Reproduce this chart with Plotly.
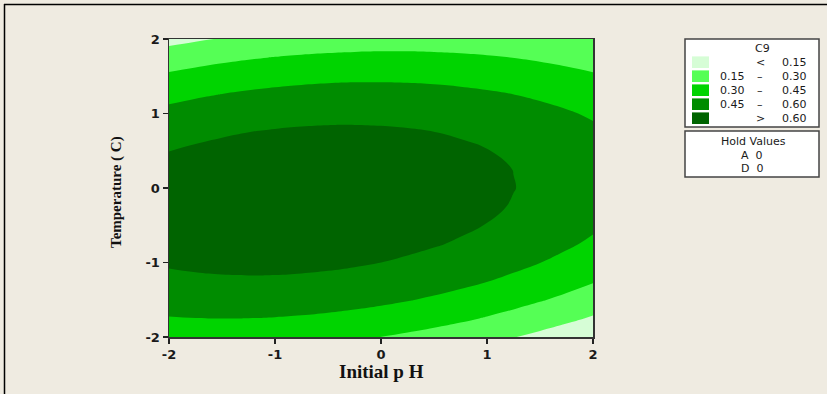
import plotly.graph_objects as go

# ---- data ----
initial_ph = [-2, -1.75, -1.5, -1.25, -1, -0.75, -0.5, -0.25, 0,
              0.25, 0.5, 0.75, 1, 1.25, 1.5, 1.75, 2]
temperature = [-2, -1.75, -1.5, -1.25, -1, -0.75, -0.5, -0.25, 0,
               0.25, 0.5, 0.75, 1, 1.25, 1.5, 1.75, 2]
# C9 response, one row per temperature value, columns follow initial_ph
c9 = [
    [0.3591, 0.3632, 0.3639, 0.3614, 0.3556, 0.3464, 0.3340, 0.3183, 0.2992, 0.2769, 0.2513, 0.2224, 0.1902, 0.1547, 0.1159, 0.0739, 0.0285],
    [0.4427, 0.4482, 0.4504, 0.4493, 0.4449, 0.4372, 0.4262, 0.4120, 0.3944, 0.3735, 0.3493, 0.3219, 0.2911, 0.2571, 0.2197, 0.1791, 0.1352],
    [0.5131, 0.5200, 0.5236, 0.5240, 0.5210, 0.5148, 0.5052, 0.4924, 0.4763, 0.4568, 0.4341, 0.4081, 0.3788, 0.3462, 0.3103, 0.2711, 0.2286],
    [0.5701, 0.5785, 0.5836, 0.5854, 0.5839, 0.5791, 0.5710, 0.5596, 0.5449, 0.5269, 0.5056, 0.4811, 0.4532, 0.4220, 0.3876, 0.3498, 0.3088],
    [0.6140, 0.6238, 0.6303, 0.6336, 0.6335, 0.6301, 0.6235, 0.6135, 0.6003, 0.5838, 0.5639, 0.5408, 0.5144, 0.4847, 0.4516, 0.4153, 0.3757],
    [0.6445, 0.6558, 0.6638, 0.6685, 0.6698, 0.6679, 0.6627, 0.6542, 0.6424, 0.6273, 0.6089, 0.5873, 0.5623, 0.5340, 0.5024, 0.4676, 0.4294],
    [0.6619, 0.6746, 0.6840, 0.6901, 0.6930, 0.6925, 0.6887, 0.6817, 0.6713, 0.6577, 0.6407, 0.6205, 0.5969, 0.5701, 0.5400, 0.5066, 0.4699],
    [0.6660, 0.6801, 0.6910, 0.6985, 0.7028, 0.7038, 0.7015, 0.6959, 0.6869, 0.6747, 0.6592, 0.6404, 0.6183, 0.5930, 0.5643, 0.5323, 0.4970],
    [0.6568, 0.6724, 0.6847, 0.6937, 0.6994, 0.7018, 0.7010, 0.6968, 0.6893, 0.6786, 0.6645, 0.6472, 0.6265, 0.6026, 0.5753, 0.5448, 0.5110],
    [0.6344, 0.6514, 0.6652, 0.6756, 0.6828, 0.6866, 0.6872, 0.6845, 0.6785, 0.6691, 0.6565, 0.6406, 0.6214, 0.5989, 0.5731, 0.5441, 0.5117],
    [0.5987, 0.6172, 0.6324, 0.6443, 0.6529, 0.6582, 0.6602, 0.6589, 0.6543, 0.6465, 0.6353, 0.6209, 0.6031, 0.5820, 0.5577, 0.5301, 0.4991],
    [0.5498, 0.5697, 0.5863, 0.5997, 0.6097, 0.6165, 0.6199, 0.6201, 0.6170, 0.6106, 0.6008, 0.5878, 0.5715, 0.5519, 0.5290, 0.5028, 0.4733],
    [0.4876, 0.5090, 0.5271, 0.5419, 0.5534, 0.5616, 0.5664, 0.5681, 0.5664, 0.5614, 0.5531, 0.5415, 0.5267, 0.5085, 0.4870, 0.4623, 0.4342],
    [0.4122, 0.4350, 0.4545, 0.4708, 0.4837, 0.4934, 0.4997, 0.5027, 0.5025, 0.4990, 0.4921, 0.4820, 0.4686, 0.4519, 0.4318, 0.4085, 0.3819],
    [0.3235, 0.3478, 0.3688, 0.3864, 0.4008, 0.4119, 0.4197, 0.4242, 0.4254, 0.4233, 0.4179, 0.4092, 0.3972, 0.3820, 0.3634, 0.3415, 0.3164],
    [0.2216, 0.2473, 0.2697, 0.2888, 0.3047, 0.3172, 0.3264, 0.3324, 0.3350, 0.3344, 0.3304, 0.3232, 0.3126, 0.2988, 0.2817, 0.2613, 0.2376],
    [0.1064, 0.1336, 0.1574, 0.1780, 0.1953, 0.2093, 0.2199, 0.2273, 0.2314, 0.2322, 0.2297, 0.2239, 0.2148, 0.2024, 0.1867, 0.1678, 0.1550],
]
levels = [0.15, 0.30, 0.45, 0.60]
band_colors = ["#D6FDD6", "#55FF55", "#00D400", "#008C00", "#006400"]
legend_low = ["", "0.15", "0.30", "0.45", ""]
legend_sym = ["<", "\u2013", "\u2013", "\u2013", ">"]
legend_high = ["0.15", "0.30", "0.45", "0.60", "0.60"]
hold_names = ["A", "D"]
hold_values = [0, 0]
tick_values = [-2, -1, 0, 1, 2]
tick_labels = ["-2", "-1", "0", "1", "2"]

# ---- geometry helpers (pixel -> paper) ----
W, H = 827, 394
L, R, T, B = 169, 593, 39, 337


def px(X):
    return (X - L) / (R - L)


def py(Y):
    return (B - Y) / (B - T)


BG = "#EFEBE1"

# stepwise colour scale: each band gets one flat colour
n = len(band_colors)
cscale = []
edges = [0] + [(i + 0.5) / (n - 1) for i in range(n - 1)] + [1]
for i, c in enumerate(band_colors):
    cscale.append([edges[i], c])
    cscale.append([edges[i + 1], c])

fig = go.Figure()
fig.add_trace(go.Contour(
    x=initial_ph, y=temperature, z=c9,
    colorscale=cscale,
    autocontour=False,
    contours=dict(start=levels[0], end=levels[-1], size=levels[1] - levels[0],
                  coloring="fill", showlines=False),
    line=dict(width=0, smoothing=1.3),
    showscale=False,
    hoverinfo="skip",
))

tickfont = dict(family="DejaVu Sans", size=13, color="#1a1a1a", weight="bold")
axis_style = dict(range=[-2, 2], tickvals=tick_values, ticktext=tick_labels,
                  ticks="outside", ticklen=5,
                  tickwidth=1.5, tickcolor="#222", showline=True, mirror=True,
                  linecolor="#333", linewidth=1.5, showgrid=False, zeroline=False,
                  tickfont=tickfont)
fig.update_xaxes(**axis_style)
fig.update_yaxes(**axis_style)

shapes = []
annotations = []

# outer frame lines (left and top)
shapes.append(dict(type="line", xref="paper", yref="paper", x0=px(4.5), x1=px(4.5),
                   y0=py(4), y1=py(400), line=dict(color="#000", width=1.5)))
shapes.append(dict(type="line", xref="paper", yref="paper", x0=px(4), x1=px(830),
                   y0=py(4.5), y1=py(4.5), line=dict(color="#000", width=1.5)))

# axis titles
annotations.append(dict(text="<b>Initial p H</b>", xref="paper", yref="paper",
                        x=px(381), y=py(371), showarrow=False,
                        font=dict(family="Liberation Serif", size=19, color="#111"),
                        xanchor="center", yanchor="middle"))
annotations.append(dict(text="<b>Temperature ( C)</b>", xref="paper", yref="paper",
                        x=px(116), y=py(192), showarrow=False, textangle=-90,
                        font=dict(family="Liberation Serif", size=15, color="#111"),
                        xanchor="center", yanchor="middle"))

# legend box 1
shapes.append(dict(type="rect", xref="paper", yref="paper", x0=px(685), x1=px(819),
                   y0=py(39), y1=py(127), line=dict(color="#444", width=1.5),
                   fillcolor="#FFFFFF"))
lfont = dict(family="DejaVu Sans", size=11, color="#1a1a1a")
annotations.append(dict(text="C9", xref="paper", yref="paper", x=px(762), y=py(48),
                        showarrow=False, font=lfont, xanchor="center", yanchor="middle"))
row_y0, row_dy = 62.2, 14.0
for i in range(len(band_colors)):
    yc = row_y0 + i * row_dy
    shapes.append(dict(type="rect", xref="paper", yref="paper", x0=px(692), x1=px(709),
                       y0=py(yc - 5.8), y1=py(yc + 5.8), line=dict(width=0),
                       fillcolor=band_colors[i]))
    if legend_low[i]:
        annotations.append(dict(text=legend_low[i], xref="paper", yref="paper",
                                x=px(747), y=py(yc), showarrow=False, font=lfont,
                                xanchor="right", yanchor="middle"))
    annotations.append(dict(text=legend_sym[i], xref="paper", yref="paper",
                            x=px(760), y=py(yc), showarrow=False, font=lfont,
                            xanchor="center", yanchor="middle"))
    annotations.append(dict(text=legend_high[i], xref="paper", yref="paper",
                            x=px(780), y=py(yc), showarrow=False, font=lfont,
                            xanchor="left", yanchor="middle"))

# legend box 2 (hold values)
shapes.append(dict(type="rect", xref="paper", yref="paper", x0=px(685), x1=px(819),
                   y0=py(131), y1=py(177), line=dict(color="#444", width=1.5),
                   fillcolor="#FFFFFF"))
annotations.append(dict(text="Hold Values", xref="paper", yref="paper", x=px(753),
                        y=py(141), showarrow=False, font=lfont, xanchor="center",
                        yanchor="middle"))
for i, (nm, v) in enumerate(zip(hold_names, hold_values)):
    annotations.append(dict(text=f"{nm}&nbsp;&nbsp;{v}", xref="paper", yref="paper",
                            x=px(752), y=py(155 + i * 13.5), showarrow=False, font=lfont,
                            xanchor="center", yanchor="middle"))

fig.update_layout(
    width=W, height=H,
    margin=dict(l=L, r=W - R, t=T, b=H - B, autoexpand=False),
    paper_bgcolor=BG, plot_bgcolor=BG,
    shapes=shapes, annotations=annotations,
    showlegend=False,
)

fig.write_html("out.html",
               config={"displayModeBar": False, "staticPlot": True},
               post_script="document.body.style.margin='0px';"
                           "document.body.style.overflow='hidden';")
